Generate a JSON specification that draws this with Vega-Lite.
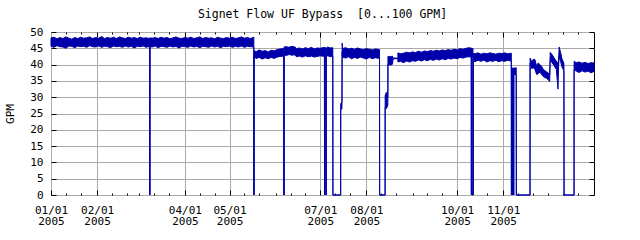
{
  "$schema": "https://vega.github.io/schema/vega-lite/v6.json",
  "width": 543,
  "height": 163,
  "autosize": "none",
  "padding": {"left": 51, "top": 32, "right": 46, "bottom": 45},
  "background": "white",
  "title": {"text": "Signet Flow UF Bypass \u00a0[0...100 GPM]", "font": "DejaVu Sans Mono", "fontSize": 11.5, "fontWeight": "normal", "color": "black", "anchor": "middle", "frame": "group", "baseline": "alphabetic", "offset": 12.5, "dy": 16},
  "config": {
    "view": {"stroke": "black", "strokeWidth": 1},
    "axis": {"labelFont": "DejaVu Sans Mono", "labelFontSize": 11, "labelColor": "black", "labelFontWeight": "normal", "titleFont": "DejaVu Sans Mono", "titleFontSize": 11, "titleFontWeight": "normal", "titleColor": "black", "domain": false, "tickColor": "black", "tickWidth": 1, "gridColor": "#aaaaaa", "gridOpacity": 1, "gridWidth": 1, "labelOverlap": false}
  },
  "data": {"values": [
    {"t":"2005-01-01T00:00","lo":45.6,"hi":48.2},
    {"t":"2005-01-03T00:00","lo":45.3,"hi":48.4},
    {"t":"2005-01-05T00:00","lo":45.8,"hi":47.9},
    {"t":"2005-01-07T00:00","lo":45.5,"hi":48.3},
    {"t":"2005-01-09T00:00","lo":45.4,"hi":48.0},
    {"t":"2005-01-11T00:00","lo":45.0,"hi":48.5},
    {"t":"2005-01-13T00:00","lo":45.7,"hi":48.1},
    {"t":"2005-01-15T00:00","lo":45.6,"hi":47.8},
    {"t":"2005-01-17T00:00","lo":45.2,"hi":48.3},
    {"t":"2005-01-19T00:00","lo":45.7,"hi":48.0},
    {"t":"2005-01-21T00:00","lo":45.5,"hi":48.4},
    {"t":"2005-01-23T00:00","lo":45.6,"hi":48.1},
    {"t":"2005-01-25T00:00","lo":45.3,"hi":48.2},
    {"t":"2005-01-27T00:00","lo":45.8,"hi":48.5},
    {"t":"2005-01-29T00:00","lo":45.5,"hi":48.0},
    {"t":"2005-01-31T00:00","lo":45.4,"hi":48.3},
    {"t":"2005-02-02T00:00","lo":45.7,"hi":48.1},
    {"t":"2005-02-04T00:00","lo":45.3,"hi":48.6},
    {"t":"2005-02-06T00:00","lo":45.6,"hi":48.0},
    {"t":"2005-02-08T00:00","lo":45.5,"hi":48.3},
    {"t":"2005-02-10T00:00","lo":45.2,"hi":48.1},
    {"t":"2005-02-12T00:00","lo":45.7,"hi":48.4},
    {"t":"2005-02-14T00:00","lo":45.5,"hi":48.0},
    {"t":"2005-02-16T00:00","lo":45.6,"hi":48.5},
    {"t":"2005-02-18T00:00","lo":45.3,"hi":48.2},
    {"t":"2005-02-20T00:00","lo":45.7,"hi":48.0},
    {"t":"2005-02-22T00:00","lo":45.4,"hi":48.4},
    {"t":"2005-02-24T00:00","lo":45.6,"hi":48.1},
    {"t":"2005-02-26T00:00","lo":45.1,"hi":48.3},
    {"t":"2005-02-28T00:00","lo":45.6,"hi":48.0},
    {"t":"2005-03-02T00:00","lo":45.5,"hi":48.4},
    {"t":"2005-03-04T00:00","lo":45.7,"hi":48.1},
    {"t":"2005-03-06T00:00","lo":45.3,"hi":48.2},
    {"t":"2005-03-08T08:00","lo":45.6,"hi":48.0},
    {"t":"2005-03-08T10:00","lo":0,"hi":0},
    {"t":"2005-03-08T12:00","lo":45.5,"hi":48.2},
    {"t":"2005-03-10T00:00","lo":45.4,"hi":48.1},
    {"t":"2005-03-12T00:00","lo":45.7,"hi":48.3},
    {"t":"2005-03-14T00:00","lo":45.2,"hi":48.0},
    {"t":"2005-03-16T00:00","lo":45.6,"hi":48.4},
    {"t":"2005-03-18T00:00","lo":45.5,"hi":48.1},
    {"t":"2005-03-20T00:00","lo":45.3,"hi":48.3},
    {"t":"2005-03-22T00:00","lo":45.7,"hi":47.9},
    {"t":"2005-03-24T00:00","lo":45.4,"hi":48.2},
    {"t":"2005-03-26T00:00","lo":45.6,"hi":48.5},
    {"t":"2005-03-28T00:00","lo":45.1,"hi":48.1},
    {"t":"2005-03-30T00:00","lo":45.6,"hi":48.0},
    {"t":"2005-04-01T00:00","lo":45.5,"hi":48.3},
    {"t":"2005-04-03T00:00","lo":45.3,"hi":48.1},
    {"t":"2005-04-05T00:00","lo":45.7,"hi":48.4},
    {"t":"2005-04-07T00:00","lo":45.4,"hi":48.0},
    {"t":"2005-04-09T00:00","lo":45.6,"hi":48.2},
    {"t":"2005-04-11T00:00","lo":45.2,"hi":48.5},
    {"t":"2005-04-13T00:00","lo":45.6,"hi":48.0},
    {"t":"2005-04-15T00:00","lo":45.5,"hi":48.3},
    {"t":"2005-04-17T00:00","lo":45.3,"hi":48.1},
    {"t":"2005-04-19T00:00","lo":45.7,"hi":48.2},
    {"t":"2005-04-21T00:00","lo":45.4,"hi":47.9},
    {"t":"2005-04-23T00:00","lo":45.6,"hi":48.4},
    {"t":"2005-04-25T00:00","lo":45.2,"hi":48.1},
    {"t":"2005-04-27T00:00","lo":45.6,"hi":48.0},
    {"t":"2005-04-29T00:00","lo":45.5,"hi":48.3},
    {"t":"2005-05-01T00:00","lo":45.7,"hi":48.1},
    {"t":"2005-05-03T00:00","lo":45.3,"hi":48.4},
    {"t":"2005-05-05T00:00","lo":45.6,"hi":48.0},
    {"t":"2005-05-07T00:00","lo":45.4,"hi":48.2},
    {"t":"2005-05-09T00:00","lo":45.7,"hi":48.5},
    {"t":"2005-05-11T00:00","lo":45.3,"hi":48.1},
    {"t":"2005-05-13T00:00","lo":45.6,"hi":48.3},
    {"t":"2005-05-15T00:00","lo":45.5,"hi":48.0},
    {"t":"2005-05-17T08:00","lo":45.4,"hi":48.4},
    {"t":"2005-05-17T10:00","lo":0,"hi":0},
    {"t":"2005-05-17T12:00","lo":42.3,"hi":44.2},
    {"t":"2005-05-19T00:00","lo":41.9,"hi":44.0},
    {"t":"2005-05-21T00:00","lo":42.2,"hi":44.5},
    {"t":"2005-05-23T00:00","lo":41.7,"hi":44.1},
    {"t":"2005-05-25T00:00","lo":42.1,"hi":44.3},
    {"t":"2005-05-27T00:00","lo":41.8,"hi":43.9},
    {"t":"2005-05-29T00:00","lo":42.2,"hi":44.4},
    {"t":"2005-05-31T00:00","lo":41.9,"hi":44.2},
    {"t":"2005-06-02T00:00","lo":42.3,"hi":44.6},
    {"t":"2005-06-04T00:00","lo":42.5,"hi":44.8},
    {"t":"2005-06-06T12:00","lo":42.6,"hi":44.9},
    {"t":"2005-06-06T14:00","lo":0,"hi":0},
    {"t":"2005-06-06T16:00","lo":43.0,"hi":45.4},
    {"t":"2005-06-08T00:00","lo":42.8,"hi":45.5},
    {"t":"2005-06-10T00:00","lo":43.1,"hi":45.3},
    {"t":"2005-06-12T00:00","lo":42.9,"hi":45.6},
    {"t":"2005-06-14T00:00","lo":43.0,"hi":45.4},
    {"t":"2005-06-15T00:00","lo":42.4,"hi":44.9},
    {"t":"2005-06-17T00:00","lo":42.6,"hi":45.1},
    {"t":"2005-06-19T00:00","lo":42.3,"hi":44.8},
    {"t":"2005-06-21T00:00","lo":42.7,"hi":45.2},
    {"t":"2005-06-23T00:00","lo":42.4,"hi":44.9},
    {"t":"2005-06-25T00:00","lo":42.6,"hi":45.3},
    {"t":"2005-06-27T00:00","lo":42.3,"hi":44.8},
    {"t":"2005-06-29T00:00","lo":42.5,"hi":45.1},
    {"t":"2005-07-01T00:00","lo":42.7,"hi":45.0},
    {"t":"2005-07-03T19:00","lo":42.5,"hi":45.3},
    {"t":"2005-07-03T21:00","lo":0,"hi":0},
    {"t":"2005-07-03T23:00","lo":42.6,"hi":45.1},
    {"t":"2005-07-04T19:00","lo":42.4,"hi":45.2},
    {"t":"2005-07-04T21:00","lo":0,"hi":0},
    {"t":"2005-07-04T23:00","lo":42.5,"hi":45.0},
    {"t":"2005-07-06T00:00","lo":42.7,"hi":45.4},
    {"t":"2005-07-08T00:00","lo":42.4,"hi":45.1},
    {"t":"2005-07-09T10:00","lo":42.6,"hi":45.2},
    {"t":"2005-07-09T12:00","lo":0,"hi":0},
    {"t":"2005-07-14T17:00","lo":0,"hi":0},
    {"t":"2005-07-14T18:00","lo":26.0,"hi":28.0},
    {"t":"2005-07-15T14:00","lo":26.5,"hi":28.5},
    {"t":"2005-07-15T17:00","lo":44.0,"hi":46.6},
    {"t":"2005-07-16T00:00","lo":42.3,"hi":44.9},
    {"t":"2005-07-18T00:00","lo":42.0,"hi":45.2},
    {"t":"2005-07-20T00:00","lo":42.4,"hi":44.8},
    {"t":"2005-07-22T00:00","lo":41.8,"hi":45.0},
    {"t":"2005-07-24T00:00","lo":42.2,"hi":44.7},
    {"t":"2005-07-26T00:00","lo":41.9,"hi":45.1},
    {"t":"2005-07-28T00:00","lo":42.3,"hi":44.8},
    {"t":"2005-07-30T00:00","lo":42.0,"hi":44.6},
    {"t":"2005-08-01T00:00","lo":41.7,"hi":44.9},
    {"t":"2005-08-03T00:00","lo":42.2,"hi":44.7},
    {"t":"2005-08-05T00:00","lo":41.8,"hi":44.5},
    {"t":"2005-08-07T00:00","lo":42.1,"hi":44.8},
    {"t":"2005-08-09T20:00","lo":41.9,"hi":44.6},
    {"t":"2005-08-09T22:00","lo":0,"hi":0},
    {"t":"2005-08-13T14:00","lo":0,"hi":0},
    {"t":"2005-08-13T15:00","lo":27.0,"hi":30.5},
    {"t":"2005-08-14T10:00","lo":26.5,"hi":31.5},
    {"t":"2005-08-15T10:00","lo":27.5,"hi":30.0},
    {"t":"2005-08-15T12:00","lo":40.2,"hi":42.5},
    {"t":"2005-08-17T00:00","lo":39.8,"hi":42.4},
    {"t":"2005-08-18T12:00","lo":40.1,"hi":42.6},
    {"t":"2005-08-19T00:00","lo":41.8,"hi":42.0},
    {"t":"2005-08-22T04:00","lo":41.8,"hi":42.0},
    {"t":"2005-08-22T05:00","lo":40.8,"hi":43.6},
    {"t":"2005-08-24T00:00","lo":41.0,"hi":43.3},
    {"t":"2005-08-26T00:00","lo":40.6,"hi":43.5},
    {"t":"2005-08-28T00:00","lo":41.1,"hi":43.8},
    {"t":"2005-08-30T00:00","lo":40.8,"hi":43.6},
    {"t":"2005-09-01T00:00","lo":41.2,"hi":43.9},
    {"t":"2005-09-03T00:00","lo":41.0,"hi":43.7},
    {"t":"2005-09-05T00:00","lo":41.4,"hi":44.1},
    {"t":"2005-09-07T00:00","lo":41.1,"hi":43.8},
    {"t":"2005-09-09T00:00","lo":41.5,"hi":44.2},
    {"t":"2005-09-11T00:00","lo":41.2,"hi":44.0},
    {"t":"2005-09-13T00:00","lo":41.6,"hi":44.3},
    {"t":"2005-09-15T00:00","lo":41.3,"hi":44.1},
    {"t":"2005-09-17T00:00","lo":41.7,"hi":44.4},
    {"t":"2005-09-19T00:00","lo":41.4,"hi":44.2},
    {"t":"2005-09-21T00:00","lo":41.8,"hi":44.5},
    {"t":"2005-09-23T00:00","lo":41.5,"hi":44.3},
    {"t":"2005-09-25T00:00","lo":41.9,"hi":44.6},
    {"t":"2005-09-27T00:00","lo":41.7,"hi":44.4},
    {"t":"2005-09-29T00:00","lo":42.0,"hi":44.7},
    {"t":"2005-10-01T00:00","lo":41.8,"hi":44.5},
    {"t":"2005-10-03T00:00","lo":42.2,"hi":44.9},
    {"t":"2005-10-05T00:00","lo":42.0,"hi":44.7},
    {"t":"2005-10-07T00:00","lo":42.3,"hi":45.0},
    {"t":"2005-10-09T00:00","lo":42.4,"hi":45.2},
    {"t":"2005-10-10T12:00","lo":42.3,"hi":45.0},
    {"t":"2005-10-10T14:00","lo":0,"hi":0},
    {"t":"2005-10-10T16:00","lo":42.5,"hi":45.1},
    {"t":"2005-10-11T15:00","lo":42.4,"hi":44.9},
    {"t":"2005-10-11T17:00","lo":0,"hi":0},
    {"t":"2005-10-11T19:00","lo":41.2,"hi":43.5},
    {"t":"2005-10-13T00:00","lo":40.9,"hi":43.3},
    {"t":"2005-10-15T00:00","lo":41.3,"hi":43.6},
    {"t":"2005-10-17T00:00","lo":41.0,"hi":43.2},
    {"t":"2005-10-19T00:00","lo":41.4,"hi":43.5},
    {"t":"2005-10-21T00:00","lo":40.8,"hi":43.3},
    {"t":"2005-10-23T00:00","lo":41.2,"hi":43.6},
    {"t":"2005-10-25T00:00","lo":41.0,"hi":43.4},
    {"t":"2005-10-27T00:00","lo":41.3,"hi":43.2},
    {"t":"2005-10-29T00:00","lo":40.9,"hi":43.5},
    {"t":"2005-10-31T00:00","lo":41.2,"hi":43.4},
    {"t":"2005-11-02T00:00","lo":41.0,"hi":43.6},
    {"t":"2005-11-04T00:00","lo":41.3,"hi":43.3},
    {"t":"2005-11-06T10:00","lo":41.1,"hi":43.5},
    {"t":"2005-11-06T12:00","lo":0,"hi":0},
    {"t":"2005-11-06T14:00","lo":37.0,"hi":38.8},
    {"t":"2005-11-06T23:00","lo":36.9,"hi":39.0},
    {"t":"2005-11-07T01:00","lo":0,"hi":0},
    {"t":"2005-11-07T03:00","lo":37.1,"hi":38.9},
    {"t":"2005-11-07T10:00","lo":37.0,"hi":39.0},
    {"t":"2005-11-07T12:00","lo":0,"hi":0},
    {"t":"2005-11-07T14:00","lo":36.8,"hi":38.8},
    {"t":"2005-11-07T22:00","lo":37.1,"hi":39.0},
    {"t":"2005-11-08T00:00","lo":0,"hi":0},
    {"t":"2005-11-08T02:00","lo":37.0,"hi":38.9},
    {"t":"2005-11-09T17:00","lo":36.9,"hi":39.0},
    {"t":"2005-11-09T19:00","lo":0,"hi":0},
    {"t":"2005-11-19T00:00","lo":0,"hi":0},
    {"t":"2005-11-19T01:00","lo":40.5,"hi":42.0},
    {"t":"2005-11-20T00:00","lo":38.8,"hi":41.0},
    {"t":"2005-11-21T05:00","lo":39.0,"hi":41.6},
    {"t":"2005-11-22T06:00","lo":38.6,"hi":41.6},
    {"t":"2005-11-23T10:00","lo":37.0,"hi":39.5},
    {"t":"2005-11-24T12:00","lo":37.2,"hi":40.5},
    {"t":"2005-11-25T16:00","lo":37.8,"hi":40.0},
    {"t":"2005-11-26T17:00","lo":37.0,"hi":39.5},
    {"t":"2005-11-28T00:00","lo":36.3,"hi":38.5},
    {"t":"2005-11-30T00:00","lo":35.8,"hi":37.8},
    {"t":"2005-12-01T03:00","lo":35.4,"hi":37.5},
    {"t":"2005-12-02T05:00","lo":34.8,"hi":37.0},
    {"t":"2005-12-02T14:00","lo":41.5,"hi":43.7},
    {"t":"2005-12-03T12:00","lo":40.8,"hi":43.3},
    {"t":"2005-12-05T00:00","lo":39.8,"hi":42.2},
    {"t":"2005-12-06T17:00","lo":38.5,"hi":41.0},
    {"t":"2005-12-07T19:00","lo":32.5,"hi":40.5},
    {"t":"2005-12-08T05:00","lo":39.5,"hi":41.5},
    {"t":"2005-12-08T14:00","lo":42.5,"hi":45.4},
    {"t":"2005-12-09T12:00","lo":41.0,"hi":43.8},
    {"t":"2005-12-10T12:00","lo":39.3,"hi":41.8},
    {"t":"2005-12-11T19:00","lo":38.0,"hi":40.3},
    {"t":"2005-12-11T21:00","lo":0,"hi":0},
    {"t":"2005-12-18T14:00","lo":0,"hi":0},
    {"t":"2005-12-18T15:00","lo":38.5,"hi":41.0},
    {"t":"2005-12-20T00:00","lo":38.0,"hi":40.6},
    {"t":"2005-12-22T00:00","lo":37.6,"hi":40.8},
    {"t":"2005-12-24T00:00","lo":38.1,"hi":40.4},
    {"t":"2005-12-26T00:00","lo":37.7,"hi":40.7},
    {"t":"2005-12-28T00:00","lo":38.0,"hi":40.3},
    {"t":"2005-12-30T00:00","lo":37.5,"hi":40.6},
    {"t":"2006-01-01T00:00","lo":37.9,"hi":40.5}
  ]},
  "layer": [
    {
      "mark": {"type": "area", "color": "#0000aa", "fillOpacity": 1, "stroke": "#0000aa", "strokeWidth": 1},
      "encoding": {
        "x": {"field": "t", "type": "temporal",
          "scale": {"domain": [{"year": 2005, "month": 1, "date": 1}, {"year": 2006, "month": 1, "date": 1}]},
          "axis": {"orient": "bottom", "title": null, "grid": true, "tickSize": -5, "labelPadding": 14, "labelBaseline": "top", "labelLineHeight": 11, "labelAlign": "center", "labelFlush": false,
            "labelExpr": "[timeFormat(datum.value, '%m/%d'), timeFormat(datum.value, '%Y')]",
            "values": [{"year": 2005, "month": 1, "date": 1}, {"year": 2005, "month": 2, "date": 1}, {"year": 2005, "month": 4, "date": 1}, {"year": 2005, "month": 5, "date": 1}, {"year": 2005, "month": 7, "date": 1}, {"year": 2005, "month": 8, "date": 1}, {"year": 2005, "month": 10, "date": 1}, {"year": 2005, "month": 11, "date": 1}]}},
        "y": {"field": "lo", "type": "quantitative",
          "scale": {"domain": [0, 50], "nice": false},
          "axis": {"orient": "left", "values": [0, 5, 10, 15, 20, 25, 30, 35, 40, 45, 50], "grid": true, "tickSize": -5, "labelPadding": 13, "title": "GPM", "titleX": -38, "titleY": 81.5, "titleAngle": -90, "titleBaseline": "alphabetic", "titleAlign": "center"}},
        "y2": {"field": "hi"}
      }
    },
    {
      "mark": {"type": "point", "opacity": 0},
      "encoding": {
        "x": {"field": "t", "type": "temporal",
          "axis": {"orient": "bottom", "title": null, "grid": false, "labels": false, "tickSize": -2,
            "values": [{"year": 2005, "month": 1, "date": 11}, {"year": 2005, "month": 1, "date": 21}, {"year": 2005, "month": 2, "date": 11}, {"year": 2005, "month": 2, "date": 21}, {"year": 2005, "month": 3, "date": 1}, {"year": 2005, "month": 3, "date": 11}, {"year": 2005, "month": 3, "date": 21}, {"year": 2005, "month": 4, "date": 11}, {"year": 2005, "month": 4, "date": 21}, {"year": 2005, "month": 5, "date": 11}, {"year": 2005, "month": 5, "date": 21}, {"year": 2005, "month": 6, "date": 1}, {"year": 2005, "month": 6, "date": 11}, {"year": 2005, "month": 6, "date": 21}, {"year": 2005, "month": 7, "date": 11}, {"year": 2005, "month": 7, "date": 21}, {"year": 2005, "month": 8, "date": 11}, {"year": 2005, "month": 8, "date": 21}, {"year": 2005, "month": 9, "date": 1}, {"year": 2005, "month": 9, "date": 11}, {"year": 2005, "month": 9, "date": 21}, {"year": 2005, "month": 10, "date": 11}, {"year": 2005, "month": 10, "date": 21}, {"year": 2005, "month": 11, "date": 11}, {"year": 2005, "month": 11, "date": 21}, {"year": 2005, "month": 12, "date": 1}, {"year": 2005, "month": 12, "date": 11}, {"year": 2005, "month": 12, "date": 21}]}},
        "y": {"field": "lo", "type": "quantitative",
          "axis": {"orient": "right", "values": [0, 5, 10, 15, 20, 25, 30, 35, 40, 45, 50], "grid": false, "labels": false, "tickSize": -5, "title": null}}
      }
    },
    {
      "mark": {"type": "point", "opacity": 0},
      "encoding": {
        "x": {"field": "t", "type": "temporal",
          "axis": {"orient": "top", "title": null, "grid": false, "labels": false, "tickSize": -5,
            "values": [{"year": 2005, "month": 2, "date": 1}, {"year": 2005, "month": 4, "date": 1}, {"year": 2005, "month": 5, "date": 1}, {"year": 2005, "month": 7, "date": 1}, {"year": 2005, "month": 8, "date": 1}, {"year": 2005, "month": 10, "date": 1}, {"year": 2005, "month": 11, "date": 1}]}}
      }
    },
    {
      "mark": {"type": "point", "opacity": 0},
      "encoding": {
        "x": {"field": "t", "type": "temporal",
          "axis": {"orient": "top", "title": null, "grid": false, "labels": false, "tickSize": -2,
            "values": [{"year": 2005, "month": 1, "date": 11}, {"year": 2005, "month": 1, "date": 21}, {"year": 2005, "month": 2, "date": 11}, {"year": 2005, "month": 2, "date": 21}, {"year": 2005, "month": 3, "date": 1}, {"year": 2005, "month": 3, "date": 11}, {"year": 2005, "month": 3, "date": 21}, {"year": 2005, "month": 4, "date": 11}, {"year": 2005, "month": 4, "date": 21}, {"year": 2005, "month": 5, "date": 11}, {"year": 2005, "month": 5, "date": 21}, {"year": 2005, "month": 6, "date": 1}, {"year": 2005, "month": 6, "date": 11}, {"year": 2005, "month": 6, "date": 21}, {"year": 2005, "month": 7, "date": 11}, {"year": 2005, "month": 7, "date": 21}, {"year": 2005, "month": 8, "date": 11}, {"year": 2005, "month": 8, "date": 21}, {"year": 2005, "month": 9, "date": 1}, {"year": 2005, "month": 9, "date": 11}, {"year": 2005, "month": 9, "date": 21}, {"year": 2005, "month": 10, "date": 11}, {"year": 2005, "month": 10, "date": 21}, {"year": 2005, "month": 11, "date": 11}, {"year": 2005, "month": 11, "date": 21}, {"year": 2005, "month": 12, "date": 1}, {"year": 2005, "month": 12, "date": 11}, {"year": 2005, "month": 12, "date": 21}]}}
      }
    }
  ],
  "resolve": {"scale": {"x": "shared", "y": "shared"}, "axis": {"x": "independent", "y": "independent"}}
}
